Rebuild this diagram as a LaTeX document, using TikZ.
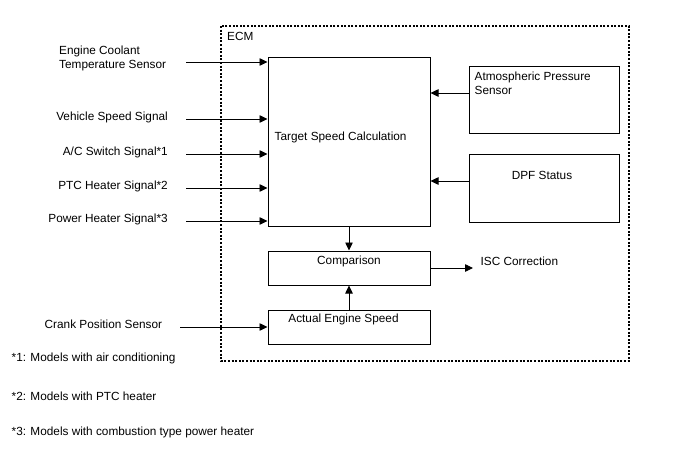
\documentclass[tikz,border=0pt]{standalone}
\usepackage{fontspec}
\setmainfont{Liberation Sans}
\usetikzlibrary{arrows.meta}
\begin{document}
\begin{tikzpicture}[x=1pt,y=-1pt,
	box/.style={draw,line width=1pt,rectangle,inner sep=0pt},
	txt/.style={inner sep=0pt,font=\fontsize{11.8}{14}\selectfont},
	sig/.style={line width=0.8pt,-{Triangle[length=8pt,width=7.5pt]}}]
	\useasboundingbox (0,0) rectangle (688,463);
	\draw[line width=1.2pt,dash pattern=on 2pt off 1.6pt] (221,26) rectangle (629,361);
	\node[txt,anchor=base west] (ecm) at (227,40) {ECM};
	
	\node[box,minimum width=162pt,minimum height=169pt] (tsc) at (349,141.5) {};
	\node[box,minimum width=150pt,minimum height=67pt] (aps) at (544,99.5) {};
	\node[box,minimum width=150pt,minimum height=68pt] (dpf) at (544,188) {};
	\node[box,minimum width=162pt,minimum height=34pt] (cmp) at (349,268) {};
	\node[box,minimum width=162pt,minimum height=34pt] (aes) at (349,327) {};
	
	\node[txt,anchor=base west] (tsctext) at (274.5,140) {Target Speed Calculation};
	\node[txt,anchor=base west,align=left] (apstext) at (474.5,94) {Atmospheric Pressure\\Sensor};
	\node[txt,anchor=base] (dpftext) at (542,179) {DPF Status};
	\node[txt,anchor=base] (cmptext) at (349,264.5) {Comparison};
	\node[txt,anchor=base] (aestext) at (343.5,322.7) {Actual Engine Speed};
	\node[txt,anchor=base west] (isc) at (480.5,265.7) {ISC Correction};
	
	\node[txt,anchor=base west] (ect1) at (59,54) {Engine Coolant};
	\node[txt,anchor=base west] (ect2) at (59,68) {Temperature Sensor};
	\node[txt,anchor=base east] (vss) at (168,120.5) {Vehicle Speed Signal};
	\node[txt,anchor=base east] (acs) at (168,155) {A/C Switch Signal*1};
	\node[txt,anchor=base east] (ptc) at (168,189) {PTC Heater Signal*2};
	\node[txt,anchor=base east] (phs) at (168,222) {Power Heater Signal*3};
	\node[txt,anchor=base west] (cps) at (44.5,328.4) {Crank Position Sensor};
	
	\node[txt,anchor=base west] (note1) at (11.5,361.7) {*1: Models with air conditioning};
	\node[txt,anchor=base west] (note2) at (11.5,400) {*2: Models with PTC heater};
	\node[txt,anchor=base west] (note3) at (11.5,435.7) {*3: Models with combustion type power heater};
	
	\coordinate (ectin) at (186,62);
	\coordinate (vssin) at (186,119);
	\coordinate (acsin) at (186,154);
	\coordinate (ptcin) at (186,188);
	\coordinate (phsin) at (186,221);
	\coordinate (cpsin) at (180,327);
	\coordinate (iscout) at (473,268);
	
	\draw[sig] (ectin) -- (ectin -| tsc.west);
	\draw[sig] (vssin) -- (vssin -| tsc.west);
	\draw[sig] (acsin) -- (acsin -| tsc.west);
	\draw[sig] (ptcin) -- (ptcin -| tsc.west);
	\draw[sig] (phsin) -- (phsin -| tsc.west);
	\draw[sig] (cpsin) -- (aes.west);
	\draw[sig] (aps.west |- 0,93) -- (tsc.east |- 0,93);
	\draw[sig] (dpf.west |- 0,181) -- (tsc.east |- 0,181);
	\draw[sig] (tsc.south) -- (cmp.north);
	\draw[sig] (aes.north) -- (cmp.south);
	\draw[sig] (cmp.east) -- (iscout);
\end{tikzpicture}
\end{document}
